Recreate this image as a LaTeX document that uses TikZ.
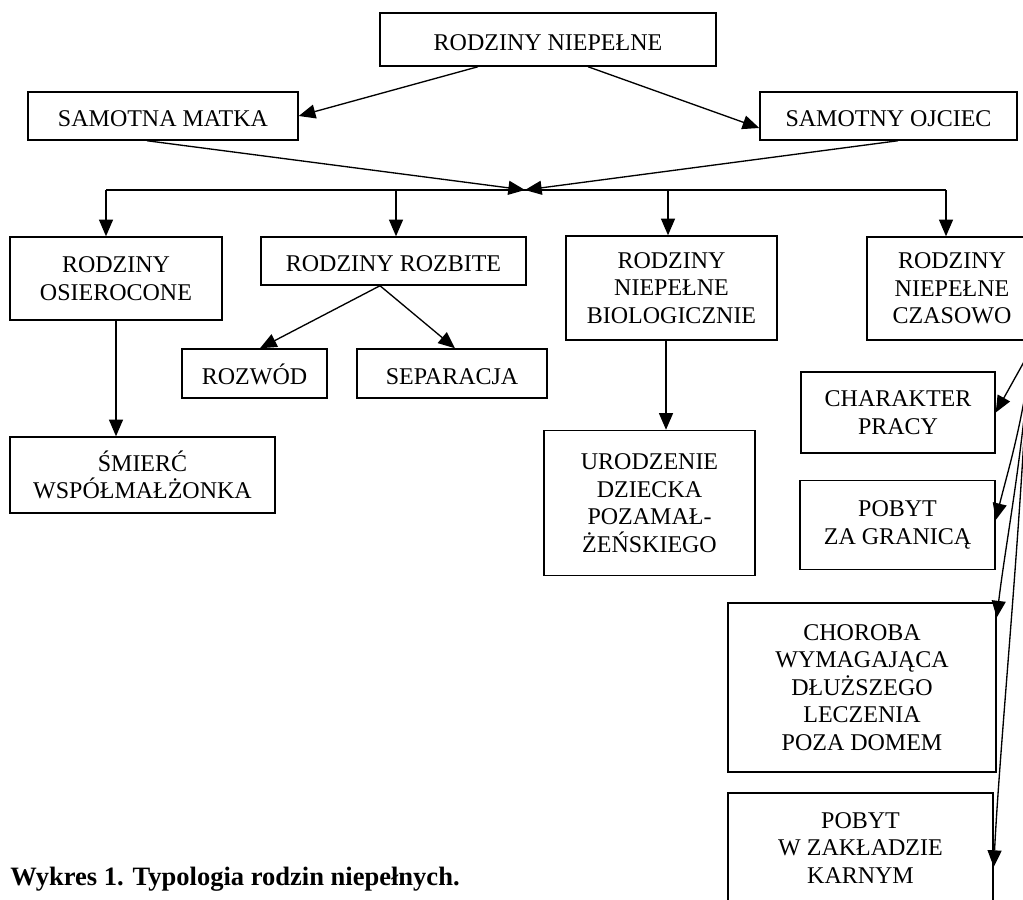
\documentclass[tikz,border=0pt]{standalone}
\usepackage{fontspec}
\setmainfont{Liberation Serif}
\usetikzlibrary{arrows.meta, calc}
\newlength{\pxu}
\setlength{\pxu}{0.75pt}
\tikzset{
  box/.style={draw, line width=1.1pt, align=center, inner sep=2pt, font=\fontsize{18}{20.6}\selectfont},
  sz/.style 2 args={minimum width=#1\pxu, minimum height=#2\pxu},
  oneline/.style={text height=16pt, text depth=0pt},
  arr/.style={-{Triangle[length=12.5pt, width=10.5pt]}, line width=1pt},
  capt/.style={font=\fontsize{19.9}{23}\selectfont\bfseries, anchor=base west, inner sep=0pt},
}

\begin{document}
\begin{tikzpicture}[x=\pxu, y=-\pxu]
    \useasboundingbox (0,0) rectangle (1023,899);
    \fill[white] (0,0) rectangle (1023,899);
    \clip (0,0) rectangle (1023,899);
    % top levels
    \node[box, oneline, sz={336}{53}] (all) at (548,39.5) {RODZINY NIEPEŁNE};
    \node[box, oneline, sz={270}{48}] (mother) at (163,116) {SAMOTNA MATKA};
    \node[box, oneline, sz={257}{48}] (father) at (888.5,116) {SAMOTNY OJCIEC};
    % second row
    \node[box, sz={212}{83}] (osier) at (116,278.5) {RODZINY\\OSIEROCONE};
    \node[box, oneline, sz={265}{48}] (rozb) at (393.5,261) {RODZINY ROZBITE};
    \node[box, sz={211}{104}] (biol) at (671.5,288) {RODZINY\\NIEPEŁNE\\BIOLOGICZNIE};
    \node[box, sz={170}{103}] (czas) at (952,288.5) {RODZINY\\NIEPEŁNE\\CZASOWO};
    % causes
    \node[box, oneline, sz={145}{49}] (rozwod) at (254.5,373.5) {ROZWÓD};
    \node[box, oneline, sz={190}{49}] (separ) at (452,373.5) {SEPARACJA};
    \node[box, sz={265}{76}] (smierc) at (142.5,475) {ŚMIERĆ\\WSPÓŁMAŁŻONKA};
    \node[box, sz={211}{145}] (urodz) at (649.5,503) {URODZENIE\\DZIECKA\\POZAMAŁ-\\ŻEŃSKIEGO};
    \node[box, sz={194}{81}] (praca) at (898,412.5) {CHARAKTER\\PRACY};
    \node[box, sz={195}{89}] (pobyt) at (897.5,525) {POBYT\\ZA GRANICĄ};
    \node[box, sz={268}{169}] (chor) at (862,687.5) {CHOROBA\\WYMAGAJĄCA\\DŁUŻSZEGO\\LECZENIA\\POZA DOMEM};
    \node[box, sz={265}{110}] (karny) at (860.5,848) {POBYT\\W ZAKŁADZIE\\KARNYM};
    \node[capt] (cap) at (10,885) {Wykres 1. Typologia rodzin niepełnych.};
    % connectors
    \draw[arr] ($(all.south)+(-70,0)$) -- (mother.east);
    \draw[arr] ($(all.south)+(40,0)$) -- ($(father.west)+(0,12)$);
    \coordinate (mg) at (525,190);
    \draw[arr] ($(mother.south)+(-16,0)$) -- (mg);
    \draw[arr] ($(father.south)+(9.5,0)$) -- (mg);
    \foreach \d/\xx/\n in {d1/106/osier, d2/396/rozb, d3/668/biol, d4/946/czas} {
      \coordinate (\d) at (\xx,190);
      \draw[arr] (\d) -- (\d |- \n.north);
    }
    \draw[line width=1pt] (d1) -- (d4);
    \draw[arr] (osier.south) -- (osier.south |- smierc.north);
    \coordinate (rs) at ($(rozb.south)+(-13.5,0)$);
    \draw[arr] (rs) -- ($(rozwod.north)+(5.5,0)$);
    \draw[arr] (rs) -- ($(separ.north)+(3,0)$);
    \coordinate (bs) at ($(biol.south)+(-5.5,0)$);
    \draw[arr] (bs) -- (bs |- urodz.north);
    % right column
    \draw[arr] ($(czas.south east)+(-2,0)$) -- (praca.east);
    \draw[arr] ($(czas.south east)+(-5,0)$) .. controls (1024,420) and (1008,470) .. ($(pobyt.east)+(0,-5)$);
    \draw[arr] ($(czas.south east)+(-7,0)$) .. controls (1024,450) and (1006,540) .. ($(chor.east)+(0,-70)$);
    \draw[arr] ($(czas.south east)+(-9,0)$) .. controls (1022,520) and (1000,740) .. ($(karny.east)+(0,19)$);
\end{tikzpicture}
\end{document}
